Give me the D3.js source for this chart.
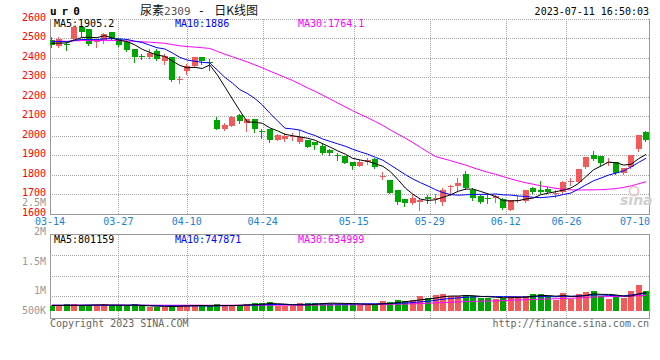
<!DOCTYPE html>
<html><head><meta charset="utf-8">
<script src="https://cdn.jsdelivr.net/npm/d3@7"></script>
<style>body{margin:0;background:#fff}svg{display:block}text{font-family:"DejaVu Sans Mono",monospace}</style>
</head><body><svg id="c" width="660" height="360"></svg>
<script>
// ---- data ----
const tickIdx = [0, 9, 18, 28, 40, 50, 60, 68, 78];
const tickLabels = ["03-14","03-27","04-10","04-24","05-15","05-29","06-12","06-26","07-10"];
const priceTicks = [1600,1700,1800,1900,2000,2100,2200,2300,2400,2500,2600];
const volTickLabels = ["2.5M","2M","1.5M","1M","500K"];
const volTickValues = [2500000,2000000,1500000,1000000,500000];

const open = [2490,2461,2470,2495,2558,2546,2478,2490,2529,2495,
2478,2444,2406,2401,2435,2384,2405,2287,2333,2359,
2401,2378,2080,2034,2049,2105,2063,2085,2027,2037,
1981,1986,1996,1969,1981,1969,1947,1927,1902,1898,
1867,1847,1864,1879,1792,1773,1722,1675,1658,1663,
1685,1678,1663,1741,1743,1807,1722,1692,1682,1683,
1675,1620,1670,1668,1731,1722,1727,1704,1714,1765,
1765,1838,1901,1898,1865,1867,1811,1841,1935,2020];
const close = [2466,2495,2468,2558,2529,2469,2486,2520,2500,2466,
2439,2405,2404,2422,2393,2410,2286,2291,2359,2405,
2381,2376,2037,2054,2097,2075,2088,2034,2025,1978,
2003,1998,1998,1995,1943,1952,1910,1910,1900,1859,
1845,1867,1876,1838,1794,1709,1663,1658,1680,1671,
1675,1680,1722,1743,1760,1731,1680,1663,1680,1690,
1629,1671,1672,1722,1714,1714,1714,1706,1765,1767,
1828,1892,1879,1862,1867,1811,1833,1901,2003,1978];
const high = [2503,2503,2478,2563,2563,2548,2488,2524,2529,2500,
2478,2444,2418,2444,2444,2418,2405,2308,2367,2405,
2401,2393,2097,2066,2100,2112,2088,2085,2037,2037,
2011,2015,2015,2029,1981,1969,1964,1930,1913,1898,
1867,1876,1884,1884,1816,1773,1722,1675,1702,1675,
1697,1702,1731,1748,1782,1819,1731,1697,1697,1697,
1680,1671,1697,1722,1739,1768,1739,1722,1770,1782,
1828,1892,1923,1898,1884,1867,1833,1901,2003,2025];
const low = [2452,2456,2439,2490,2512,2466,2452,2473,2495,2461,
2432,2376,2393,2398,2388,2367,2279,2272,2316,2354,
2367,2337,2037,2029,2049,2068,2025,2020,1991,1969,
1978,1974,1981,1964,1943,1930,1906,1901,1876,1859,
1828,1843,1855,1833,1779,1705,1651,1641,1651,1620,
1656,1658,1646,1697,1722,1726,1671,1658,1654,1663,
1624,1620,1663,1663,1709,1709,1705,1688,1705,1748,
1765,1833,1876,1850,1850,1807,1807,1833,1923,1974];
const ma5 = [2473,2474,2475,2490,2503.2,2503.8,2502,2512.4,2500.8,2488.2,
2482.2,2466,2442.8,2427.2,2412.6,2406.8,2383,2360.4,2347.8,2350.2,
2344.4,2362.4,2311.6,2250.6,2189,2127.8,2070.2,2069.6,2063.8,2040,
2025.6,2007.6,2000.4,1994.4,1987.4,1977.2,1959.6,1942,1923,1906.2,
1884.8,1876.2,1869.4,1857,1844,1816.8,1776,1732.4,1700.8,1676.2,
1669.4,1672.8,1685.6,1698.2,1716,1727.2,1727.2,1715.4,1702.8,1688.8,
1668.4,1666.6,1668.4,1676.8,1681.6,1698.6,1707.2,1714,1722.6,1733.2,
1756,1791.6,1826.2,1845.6,1865.6,1862.2,1850.4,1854.8,1883,1905.2];
const ma10 = [2481,2482,2481,2488,2493,2492,2492,2496,2497,2495.7,
2493,2484,2477.6,2464,2450.4,2444.5,2424.5,2401.6,2387.5,2381.4,
2375.6,2372.7,2336,2299.2,2269.6,2236.1,2216.3,2190.6,2157.2,2114.5,
2076.7,2038.9,2035,2029.1,2013.7,2001.4,1983.6,1971.2,1958.7,1946.8,
1931,1917.9,1905.7,1890,1875.1,1850.8,1826.1,1800.9,1778.9,1760.1,
1743.1,1724.4,1709,1699.5,1696.1,1698.3,1700,1700.5,1700.5,1702.4,
1697.8,1696.9,1691.9,1689.8,1685.2,1683.5,1686.9,1691.2,1699.7,1707.4,
1727.3,1749.4,1770.1,1784.1,1799.4,1809.1,1821,1840.5,1864.3,1885.4];
const ma30 = [2484,2484,2483,2486,2487,2487,2487,2488,2488,2487,
2485,2483.6,2480.9,2478.9,2475.9,2473.4,2466.8,2460.4,2456.4,2453.8,
2450.4,2446.8,2431.8,2417.5,2404.5,2390.9,2377.7,2362.7,2347.4,2330.5,
2315.1,2298.5,2282.9,2264.1,2244.6,2227.3,2208.1,2187.8,2167.8,2147.6,
2127.8,2109.8,2092.2,2072.8,2052.8,2029.4,2008.7,1987.6,1964.9,1940.5,
1916.9,1893.7,1883.2,1872.9,1861.6,1850.2,1836.6,1824.2,1812.7,1803.1,
1790.6,1779.7,1768.9,1759.8,1752.1,1744.2,1737.7,1730.9,1726.4,1723.3,
1722.7,1723.6,1723.7,1724.5,1726.9,1730.3,1736,1744.1,1754.8,1765.1];
const volume = [202000,202000,288000,288000,245000,245000,245000,288000,245000,245000,
202000,288000,202000,172000,172000,172000,245000,245000,245000,245000,
202000,202000,288000,245000,245000,245000,288000,344000,344000,387000,
202000,202000,202000,344000,344000,344000,344000,314000,314000,314000,
314000,245000,245000,314000,417000,374000,486000,417000,486000,632000,
559000,675000,718000,632000,632000,675000,632000,572000,559000,529000,
559000,632000,632000,632000,718000,718000,632000,486000,774000,529000,
744000,797000,850000,655000,529000,602000,572000,860000,1105000,860000];
const vma5 = [240000,240000,242000,243000,245000,253600,262200,262200,253600,253600,
245000,253600,236400,221800,207200,201200,192600,201200,215800,230400,
236400,227800,236400,236400,236400,245000,262200,273400,293200,321600,
313000,295800,267400,267400,258800,287200,315600,338000,332000,326000,
320000,300200,286400,286400,307000,319000,367200,401600,436000,479000,
516000,553800,614000,643200,643200,666400,657800,628600,614000,593400,
570200,570200,582200,596800,634600,666400,666400,637200,665600,627800,
633000,666000,738800,715000,715000,686600,641600,643600,733600,799800];
const vma10 = [245000,245000,245000,245000,246000,247000,248000,248000,249000,249300,
249300,257900,249300,237700,230400,223100,223100,218800,218800,218800,
218800,210200,218800,226100,233400,240700,245000,254900,264800,279000,
279000,279000,270400,280300,290200,300100,305700,302700,299700,292400,
303600,307900,312200,309200,316500,319500,333700,344000,361200,393000,
417500,460500,507800,539600,561100,591200,605800,621300,628600,618300,
618300,614000,605400,605400,614000,618300,618300,609700,631200,631200,
649700,666200,688000,690300,671400,659800,653800,691200,724300,757400];
const vma30 = [250000,250000,250000,251000,251000,251000,251000,251000,251000,251000,
250000,250000,250000,249000,249000,248000,248000,248000,248000,248000,
247000,247000,247000,247000,247000,247000,248000,248000,249000,249000,
249000,249000,246200,248000,251300,254600,257900,258800,261100,263400,
267100,265700,267100,271900,280000,286800,294800,300500,308600,321500,
333400,349100,363500,376400,389300,403600,415100,422700,429800,434600,
446500,460800,475100,484700,497200,509700,519300,525000,540300,547500,
561800,580200,600400,611800,615500,623100,626000,640700,661400,669000];
const priceMaText = ["MA5:1905.2","MA10:1886","MA30:1764.1"];
const volMaText = ["MA5:801159","MA10:747871","MA30:634999"];

// ---- drawing ----
const RED = "#f55a5a", GREEN = "#00a600", GRID = "#a8a8a8", BORDER = "#999";
const svg = d3.select("#c");
const idx = d3.range(close.length);
const xb = d3.scaleBand().domain(idx).range([48, 650]);
const xc = i => xb(i) + xb.bandwidth() / 2;
const xg = d3.scalePoint().domain(idx).range([50, 650]);
const yp = d3.scaleLinear().domain([1600, 2600]).range([214, 18.5]);
const yv = d3.scaleLinear().domain([0, 2000000]).range([311, 264.5]);
const yvLab = d3.scaleLinear().domain([1000000, 2000000]).range([294, 235]);
const PL = 50, PR = 649, PT = 18.5, PB = 214, VT = 234.5, VB = 318;

const defs = svg.append("defs");
defs.append("clipPath").attr("id","cp").append("rect").attr("x",PL).attr("y",PT).attr("width",PR-PL).attr("height",PB-PT);
defs.append("clipPath").attr("id","cv").append("rect").attr("x",PL).attr("y",VT).attr("width",PR-PL).attr("height",VB-VT);

const g = svg.append("g").attr("shape-rendering","crispEdges");
priceTicks.slice(1).forEach(p => {
  g.append("line").attr("x1",PL).attr("x2",PR).attr("y1",Math.round(yp(p))+0.5).attr("y2",Math.round(yp(p))+0.5)
   .attr("stroke",GRID).attr("stroke-dasharray","1,1");
});
[255, 275.5, 296].forEach(y => {
  g.append("line").attr("x1",PL).attr("x2",PR).attr("y1",Math.round(y)+0.5).attr("y2",Math.round(y)+0.5)
   .attr("stroke",GRID).attr("stroke-dasharray","1,1");
});
tickIdx.forEach(i => {
  const x = Math.round(xg(i)) + 0.5;
  if (x <= PL + 2 || x >= PR - 10) return;
  [[PT, PB], [VT, VB]].forEach(([a, b]) => g.append("line").attr("x1",x).attr("x2",x).attr("y1",a).attr("y2",b)
    .attr("stroke",GRID).attr("stroke-dasharray","1,1"));
});
g.append("path").attr("d",`M${PL+0.5},${PT}V${PB+0.5}H${PR+0.5}V${PT}`).attr("fill","none").attr("stroke",BORDER);
g.append("rect").attr("x",PL+0.5).attr("y",VT).attr("width",PR-PL).attr("height",VB-VT).attr("fill","none").attr("stroke",BORDER);

// candles
const cg = svg.append("g").attr("clip-path","url(#cp)").attr("shape-rendering","crispEdges");
idx.forEach(i => {
  const up = close[i] >= open[i];
  const col = up ? RED : GREEN;
  const bx = Math.round(xc(i) - 3);
  cg.append("line").attr("x1",bx+2.5).attr("x2",bx+2.5).attr("y1",Math.round(yp(high[i]))).attr("y2",Math.round(yp(low[i]))+1).attr("stroke",col);
  const y1 = Math.round(yp(Math.max(open[i], close[i])));
  const y2 = Math.round(yp(Math.min(open[i], close[i])));
  cg.append("rect").attr("x",bx).attr("y",y1).attr("width",6).attr("height",Math.max(1,y2-y1)).attr("fill",col);
});
const lg = svg.append("g").attr("clip-path","url(#cp)");
const pline = d3.line().x((d,i) => xc(i)).y(d => yp(d));
[[ma30,"#f0f"],[ma10,"#00f"],[ma5,"#000"]].forEach(([arr,c]) =>
  lg.append("path").attr("d",pline(arr)).attr("fill","none").attr("stroke",c).attr("stroke-width",1));

// volume
const vg = svg.append("g").attr("clip-path","url(#cv)").attr("shape-rendering","crispEdges");
idx.forEach(i => {
  const up = close[i] >= open[i];
  const bx = Math.round(xc(i) - 3);
  const y = Math.round(yv(volume[i]));
  vg.append("rect").attr("x",bx).attr("y",y).attr("width",6).attr("height",Math.round(yv(0))-y).attr("fill",up?RED:GREEN);
});
const vline = d3.line().x((d,i) => xc(i)).y(d => yv(d));
const vlg = svg.append("g").attr("clip-path","url(#cv)");
[[vma30,"#f0f"],[vma10,"#00f"],[vma5,"#000"]].forEach(([arr,c]) =>
  vlg.append("path").attr("d",vline(arr)).attr("fill","none").attr("stroke",c).attr("stroke-width",1));

// price axis labels
const ya = svg.append("g").attr("transform","translate(46,0)")
  .call(d3.axisLeft(yp).tickValues(priceTicks).tickSize(0).tickPadding(0).tickFormat(d3.format("d")));
ya.select(".domain").remove();
ya.selectAll("text").attr("dy",null).attr("y",1.5).attr("fill","#f00")
  .style("font-family","'DejaVu Sans Mono',monospace").style("font-size","10px");

// volume labels
volTickValues.forEach((v,k) => {
  svg.append("text").attr("x",46).attr("y",Math.min(314, yvLab(v)) + (k === 0 ? 0.5 : 0)).attr("text-anchor","end")
    .attr("fill","#999").style("font-size","10px").text(volTickLabels[k]);
});

// date labels
tickIdx.forEach((i,k) => {
  let x = xg(i);
  const half = 15;
  if (x + half > 650) x = 650 - half;
  svg.append("text").attr("x",x).attr("y",225).attr("text-anchor","middle")
    .attr("fill","#1a7fd6").style("font-size","10px").text(tickLabels[k]);
});

// MA labels
const maCols = ["#000","#00f","#f0f"], maX = [54,175,298];
priceMaText.forEach((t,k) => svg.append("text").attr("x",maX[k]).attr("y",27).attr("fill",maCols[k]).style("font-size","10px").text(t));
volMaText.forEach((t,k) => svg.append("text").attr("x",maX[k]).attr("y",243).attr("fill",maCols[k]).style("font-size","10px").text(t));

// header
svg.append("text").attr("x",50).attr("y",15).style("font-size","11px").style("font-weight","bold")
  .style("letter-spacing","5px").attr("fill","#000").text("ur0");
const tt = svg.append("text").attr("x",140).attr("y",15).attr("fill","#111")
  .style("font-family","'Noto Sans CJK SC',sans-serif").style("font-size","12px");
tt.append("tspan").text("尿素");
tt.append("tspan").attr("fill","#555").style("font-family","'DejaVu Sans Mono',monospace").style("font-size","11px").text("2309");
tt.append("tspan").style("font-family","'DejaVu Sans Mono',monospace").style("font-size","12px").attr("xml:space","preserve").text("\u00a0-\u00a0");
tt.append("tspan").attr("dx",2).text("日K线图");
svg.append("text").attr("x",649).attr("y",15).attr("text-anchor","end").attr("fill","#000")
  .style("font-size","10px").text("2023-07-11 16:50:03");

// footer
svg.append("text").attr("x",50).attr("y",327).attr("fill","#666").style("font-size","10px").text("Copyright 2023 SINA.COM");
svg.append("text").attr("x",649).attr("y",327).attr("text-anchor","end").attr("fill","#666").style("font-size","10px").text("http://finance.sina.com.cn");

// sina watermark
svg.append("circle").attr("cx",634).attr("cy",191).attr("r",4.5).attr("fill","none").attr("stroke","#f2b8b8").attr("stroke-width",1.5);
svg.append("text").attr("x",620).attr("y",205).attr("fill","#cfcfcf").style("font-family","'DejaVu Sans',sans-serif")
  .style("font-size","14px").style("font-style","italic").style("font-weight","bold").text("sina");
</script></body></html>
